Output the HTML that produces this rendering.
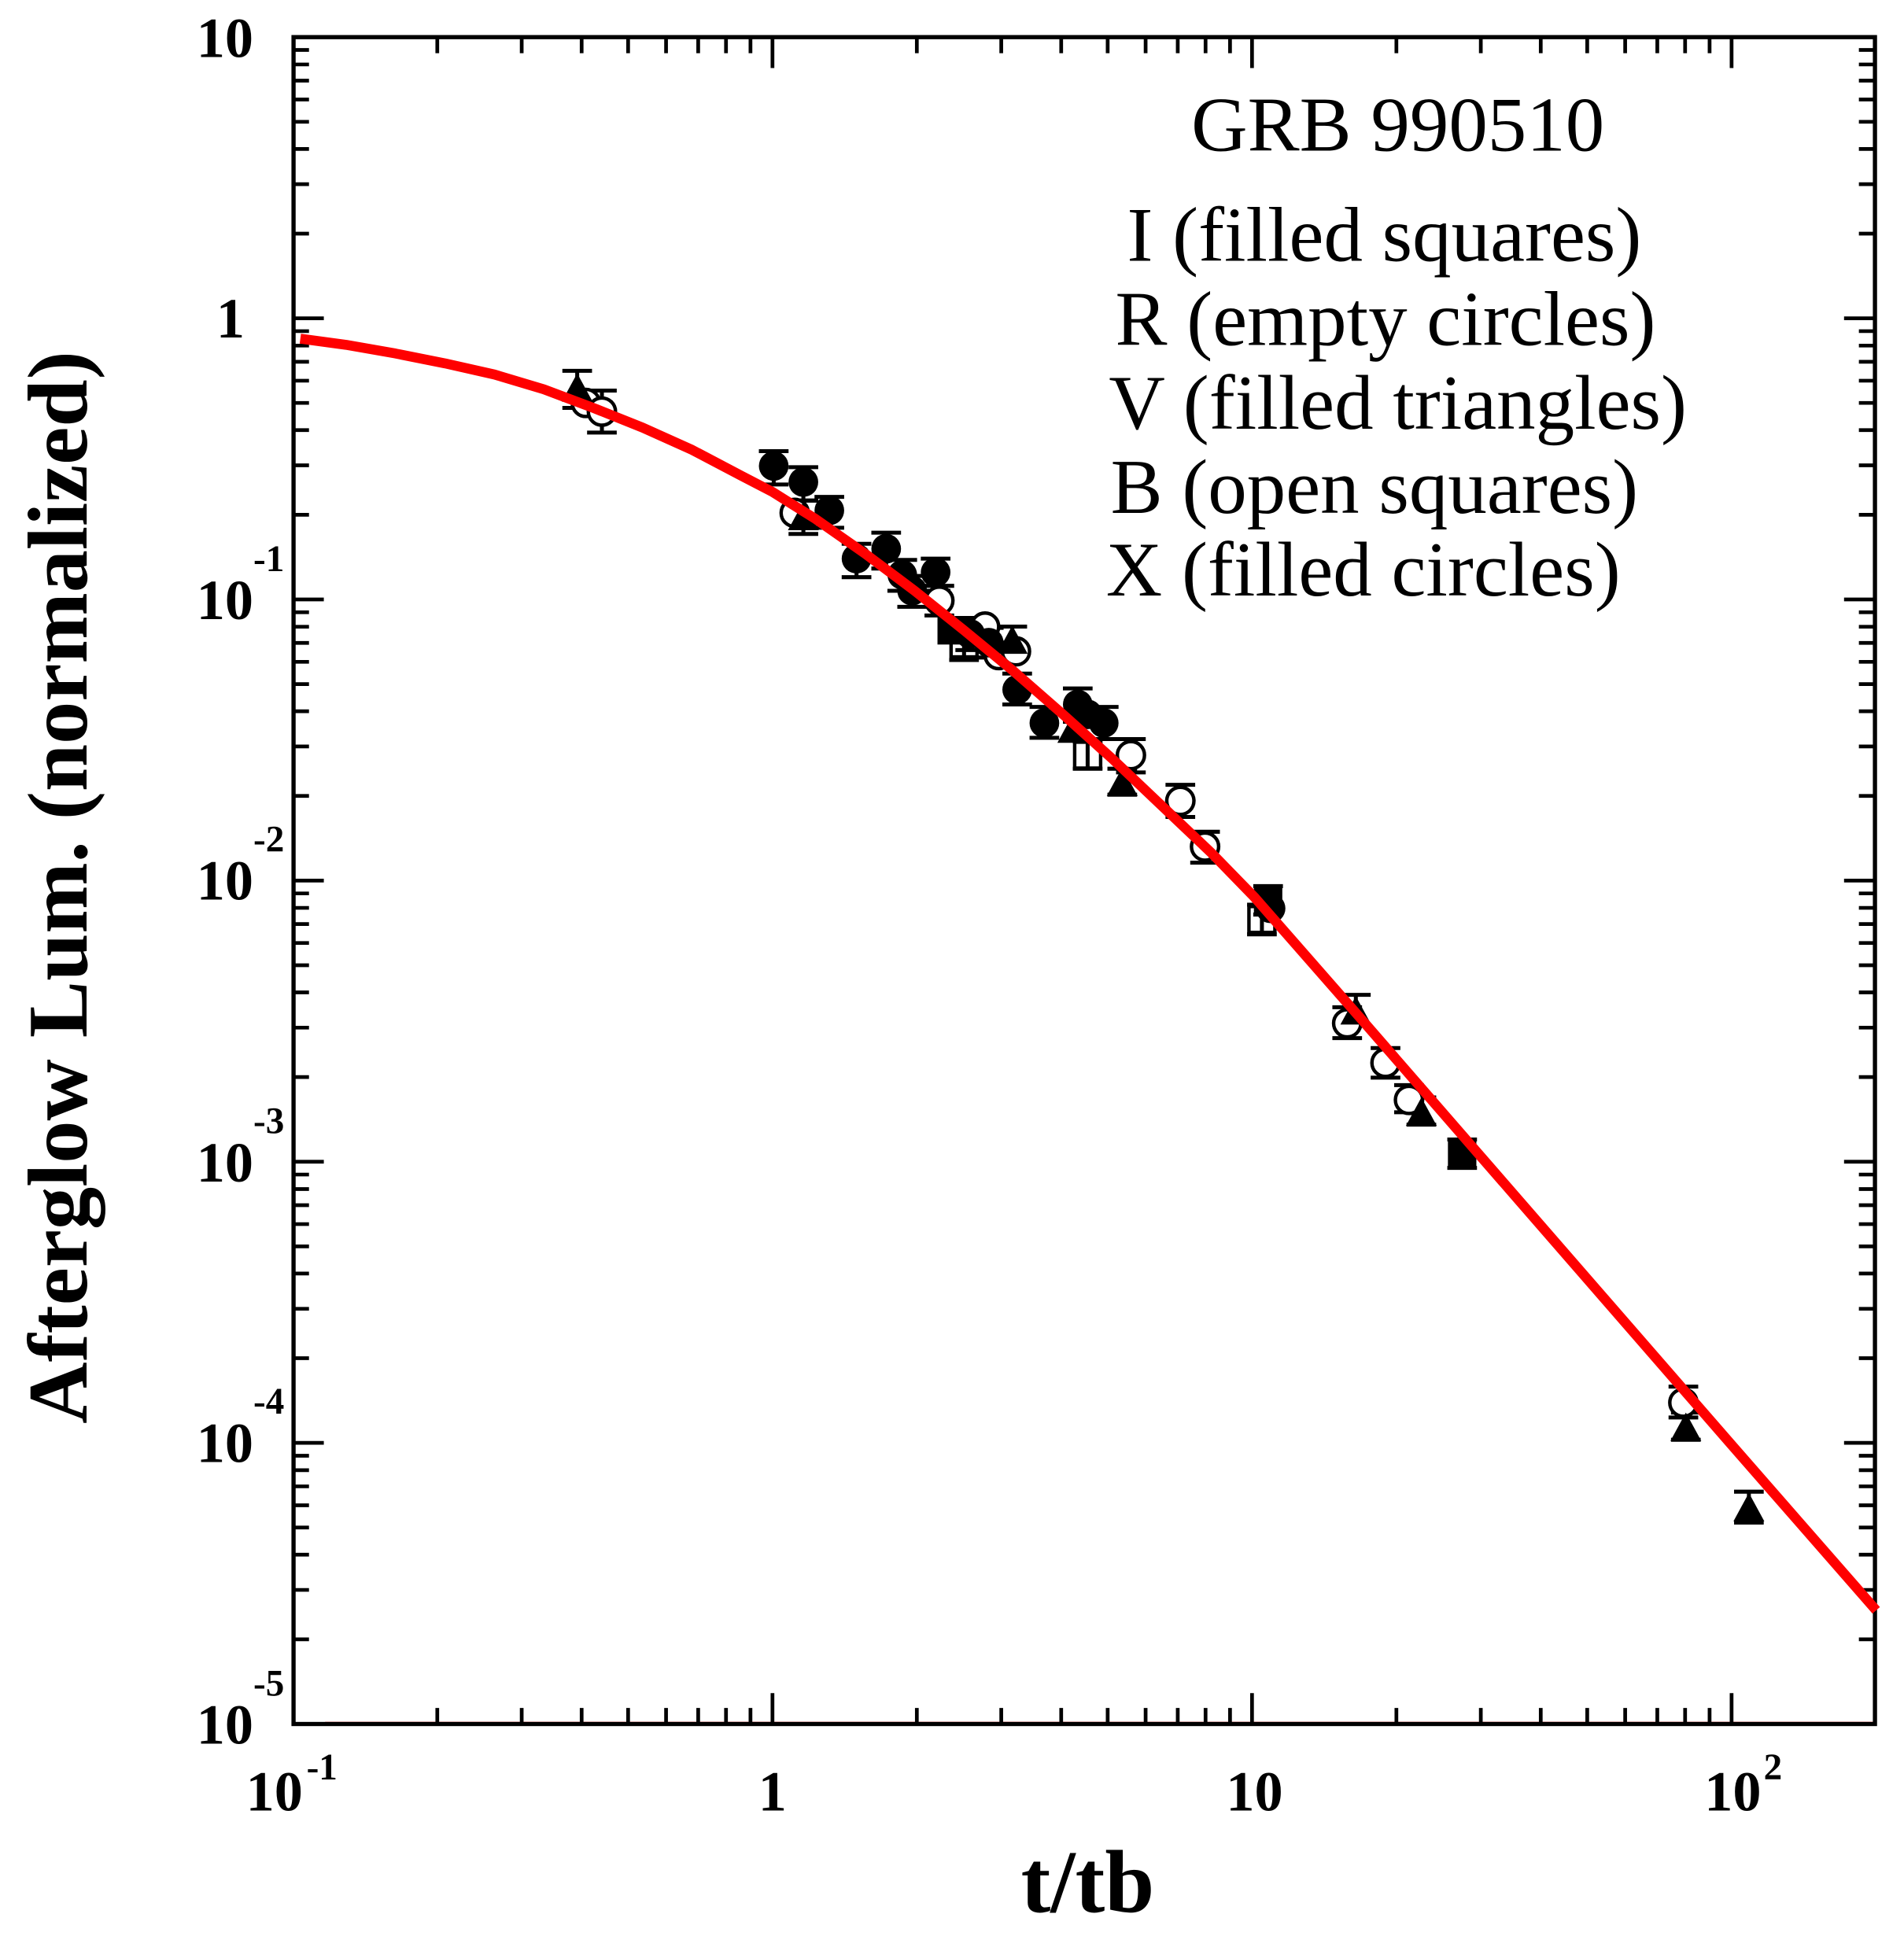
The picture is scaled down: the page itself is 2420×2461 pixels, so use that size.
<!DOCTYPE html>
<html><head><meta charset="utf-8"><style>html,body{margin:0;padding:0;background:#fff}svg{display:block}</style></head>
<body>
<svg width="2420" height="2461" viewBox="0 0 1540.5 1566.5" xmlns="http://www.w3.org/2000/svg">
<defs>
<circle id="fc" r="12" fill="#000"/>
<circle id="oc" r="11" fill="#fff" stroke="#000" stroke-width="2.8"/>
<rect id="fs" x="-11.5" y="-11.5" width="23" height="23" fill="#000"/>
<rect id="os" x="-10.5" y="-10.5" width="21" height="21" fill="none" stroke="#000" stroke-width="2.8"/>
<path id="ft" d="M0 -14 L12.5 9 L-12.5 9 Z" fill="#000"/>
</defs>
<rect width="1540.5" height="1566.5" fill="#fff"/>
<line x1="263" y1="1394" x2="1517" y2="1394" stroke="#f00" stroke-width="1.5"/>
<rect x="237.5" y="30" width="1279.5" height="1365" fill="none" stroke="#000" stroke-width="3.4"/>
<g stroke="#000" stroke-width="3" fill="none">
<path d="M237 257.5h25M237 485h25M237 712.5h25M237 940h25M237 1167.5h25 M1517 257.5h-25M1517 485h-25M1517 712.5h-25M1517 940h-25M1517 1167.5h-25"/>
<path d="M237 189h13M237 149h13M237 120.5h13M237 98.5h13M237 80.5h13M237 65.2h13M237 52.1h13M237 40.4h13
M237 416.5h13M237 376.5h13M237 348h13M237 326h13M237 308h13M237 292.7h13M237 279.6h13M237 267.9h13
M237 644h13M237 604h13M237 575.5h13M237 553.5h13M237 535.5h13M237 520.2h13M237 507.1h13M237 495.4h13
M237 871.5h13M237 831.5h13M237 803h13M237 781h13M237 763h13M237 747.7h13M237 734.6h13M237 722.9h13
M237 1099h13M237 1059h13M237 1030.5h13M237 1008.5h13M237 990.5h13M237 975.2h13M237 962.1h13M237 950.4h13
M237 1326.5h13M237 1286.5h13M237 1258h13M237 1236h13M237 1218h13M237 1202.7h13M237 1189.6h13M237 1177.9h13"/>
<path d="M1517 189h-13M1517 149h-13M1517 120.5h-13M1517 98.5h-13M1517 80.5h-13M1517 65.2h-13M1517 52.1h-13M1517 40.4h-13
M1517 416.5h-13M1517 376.5h-13M1517 348h-13M1517 326h-13M1517 308h-13M1517 292.7h-13M1517 279.6h-13M1517 267.9h-13
M1517 644h-13M1517 604h-13M1517 575.5h-13M1517 553.5h-13M1517 535.5h-13M1517 520.2h-13M1517 507.1h-13M1517 495.4h-13
M1517 871.5h-13M1517 831.5h-13M1517 803h-13M1517 781h-13M1517 763h-13M1517 747.7h-13M1517 734.6h-13M1517 722.9h-13
M1517 1099h-13M1517 1059h-13M1517 1030.5h-13M1517 1008.5h-13M1517 990.5h-13M1517 975.2h-13M1517 962.1h-13M1517 950.4h-13
M1517 1326.5h-13M1517 1286.5h-13M1517 1258h-13M1517 1236h-13M1517 1218h-13M1517 1202.7h-13M1517 1189.6h-13M1517 1177.9h-13"/>
<path d="M625 1395v-25M1013 1395v-25M1401 1395v-25M625 30v25M1013 30v25M1401 30v25"/>
<path d="M353.8 1395v-13M422.1 1395v-13M470.6 1395v-13M508.2 1395v-13M538.9 1395v-13M564.9 1395v-13M587.4 1395v-13M607.2 1395v-13
M741.8 1395v-13M810.1 1395v-13M858.6 1395v-13M896.2 1395v-13M926.9 1395v-13M952.9 1395v-13M975.4 1395v-13M995.2 1395v-13
M1129.8 1395v-13M1198.1 1395v-13M1246.6 1395v-13M1284.2 1395v-13M1314.9 1395v-13M1340.9 1395v-13M1363.4 1395v-13M1383.2 1395v-13"/>
<path d="M353.8 30v13M422.1 30v13M470.6 30v13M508.2 30v13M538.9 30v13M564.9 30v13M587.4 30v13M607.2 30v13
M741.8 30v13M810.1 30v13M858.6 30v13M896.2 30v13M926.9 30v13M952.9 30v13M975.4 30v13M995.2 30v13
M1129.8 30v13M1198.1 30v13M1246.6 30v13M1284.2 30v13M1314.9 30v13M1340.9 30v13M1363.4 30v13M1383.2 30v13"/>
</g>

<g stroke="#000" stroke-width="3.2" fill="none">
<path d="M455 300h24M467 300V330M455 330h24"/>
<path d="M475 316h24M487 316V350M475 350h24"/>
<path d="M614 365h24M626 365V392M614 392h24"/>
<path d="M638 378h24M650 378V405M638 405h24"/>
<path d="M638 405h24M650 405V432M638 432h24"/>
<path d="M659 402h24M671 402V427M659 427h24"/>
<path d="M681 440h24M693 440V467M681 467h24"/>
<path d="M705 431h24M717 431V460M705 460h24"/>
<path d="M718 453h24M730 453V478M718 478h24"/>
<path d="M726 466h24M738 466V491M726 491h24"/>
<path d="M745 452h24M757 452V478M745 478h24"/>
<path d="M748 474h24M760 474V498M748 498h24"/>
<path d="M768 508h24M780 508V534M768 534h24"/>
<path d="M773 500h24M785 500V526M773 526h24"/>
<path d="M788 508h24M800 508V532M788 532h24"/>
<path d="M807 507h24M819 507V532M807 532h24"/>
<path d="M811 545h24M823 545V570M811 570h24"/>
<path d="M833 572h24M845 572V597M833 597h24"/>
<path d="M860 557h24M872 557V584M860 584h24"/>
<path d="M881 572h24M893 572V598M881 598h24"/>
<path d="M868 600h24M880 600V622M868 622h24"/>
<path d="M903 598h24M915 598V625M903 625h24"/>
<path d="M896 622h24M908 622V643M896 643h24"/>
<path d="M943 635h24M955 635V661M943 661h24"/>
<path d="M963 673h24M975 673V698M963 698h24"/>
<path d="M1014 717h24M1026 717V740M1014 740h24"/>
<path d="M1009 732h24M1021 732V756M1009 756h24"/>
<path d="M1078 815h24M1090 815V840M1078 840h24"/>
<path d="M1085 805h24M1097 805V830M1085 830h24"/>
<path d="M1109 848h24M1121 848V872M1109 872h24"/>
<path d="M1128 878h24M1140 878V900M1128 900h24"/>
<path d="M1138 888h24M1150 888V910M1138 910h24"/>
<path d="M1171 922h24M1183 922V945M1171 945h24"/>
<path d="M1350 1122h24M1362 1122V1147M1350 1147h24"/>
<path d="M1352 1143h24M1364 1143V1165M1352 1165h24"/>
<path d="M1403 1207h24M1415 1207V1232M1403 1232h24"/>
</g>

<use href="#oc" x="474" y="326"/>
<use href="#oc" x="487" y="333"/>
<use href="#ft" x="467" y="316"/>
<use href="#oc" x="643" y="415"/>
<use href="#ft" x="650" y="420"/>
<use href="#fc" x="626" y="377"/>
<use href="#fc" x="650" y="390"/>
<use href="#fc" x="671" y="413"/>
<use href="#fc" x="693" y="452"/>
<use href="#fc" x="717" y="444"/>
<use href="#fc" x="730" y="465"/>
<use href="#fc" x="738" y="478"/>
<use href="#oc" x="760" y="486"/>
<use href="#fc" x="757" y="463"/>
<use href="#os" x="780" y="521"/>
<use href="#oc" x="797" y="507"/>
<use href="#oc" x="808" y="530"/>
<use href="#oc" x="822" y="527"/>
<use href="#fs" x="770" y="510"/>
<use href="#fc" x="785" y="513"/>
<use href="#fc" x="800" y="520"/>
<use href="#ft" x="819" y="520"/>
<use href="#fc" x="823" y="558"/>
<use href="#fc" x="845" y="585"/>
<use href="#ft" x="868" y="592"/>
<use href="#fc" x="872" y="570"/>
<use href="#fc" x="880" y="578"/>
<use href="#fc" x="893" y="585"/>
<use href="#os" x="880" y="611"/>
<use href="#oc" x="915" y="611"/>
<use href="#ft" x="908" y="635"/>
<use href="#oc" x="955" y="648"/>
<use href="#oc" x="975" y="685"/>
<use href="#os" x="1021" y="744"/>
<use href="#fs" x="1026" y="728"/>
<use href="#fc" x="1028" y="735"/>
<use href="#oc" x="1090" y="828"/>
<use href="#ft" x="1097" y="820"/>
<use href="#oc" x="1121" y="860"/>
<use href="#oc" x="1140" y="890"/>
<use href="#ft" x="1150" y="902"/>
<use href="#fs" x="1183" y="933"/>
<use href="#oc" x="1362" y="1135"/>
<use href="#ft" x="1364" y="1157"/>
<use href="#ft" x="1415" y="1222"/>

<polyline fill="none" stroke="#f00" stroke-width="8" stroke-linejoin="round"
points="243,274 280,279 320,286 360,294 400,303 440,315 480,330 520,346 560,364 600,385 625,398 660,420 700,448 740,478 780,510 820,543 860,578 900,614 940,652 980,690 1015,726 1100,823 1180,915 1300,1053 1400,1168 1518,1303"/>

<g font-family="'Liberation Serif',serif" font-weight="bold" fill="#000">
<g font-size="46" text-anchor="end">
<text x="205" y="46">10</text>
<text x="198" y="273">1</text>
<text x="205" y="501">10</text>
<text x="205" y="728">10</text>
<text x="205" y="956">10</text>
<text x="205" y="1183">10</text>
<text x="205" y="1411">10</text>
</g>
<g font-size="30">
<text x="205" y="462">-1</text>
<text x="205" y="689">-2</text>
<text x="205" y="917">-3</text>
<text x="205" y="1144">-4</text>
<text x="205" y="1372">-5</text>
</g>
<g font-size="46" text-anchor="middle">
<text x="222" y="1465">10</text>
<text x="625" y="1465">1</text>
<text x="1015" y="1465">10</text>
<text x="1402" y="1465">10</text>
</g>
<g font-size="30">
<text x="248" y="1440">-1</text>
<text x="1427" y="1440">2</text>
</g>
<text x="880" y="1547" font-size="72" text-anchor="middle">t/tb</text>
<text transform="translate(70,718) rotate(-90)" font-size="69" text-anchor="middle">Afterglow Lum. (normalized)</text>
</g>

<g font-family="'Liberation Serif',serif" font-size="63" fill="#000" text-anchor="middle">
<text x="1131" y="122">GRB 990510</text>
<text x="1120" y="211">I (filled squares)</text>
<text x="1121" y="279">R (empty circles)</text>
<text x="1131" y="347">V (filled triangles)</text>
<text x="1112" y="415">B (open squares)</text>
<text x="1103" y="482">X (filled circles)</text>
</g>
</svg>
</body></html>
